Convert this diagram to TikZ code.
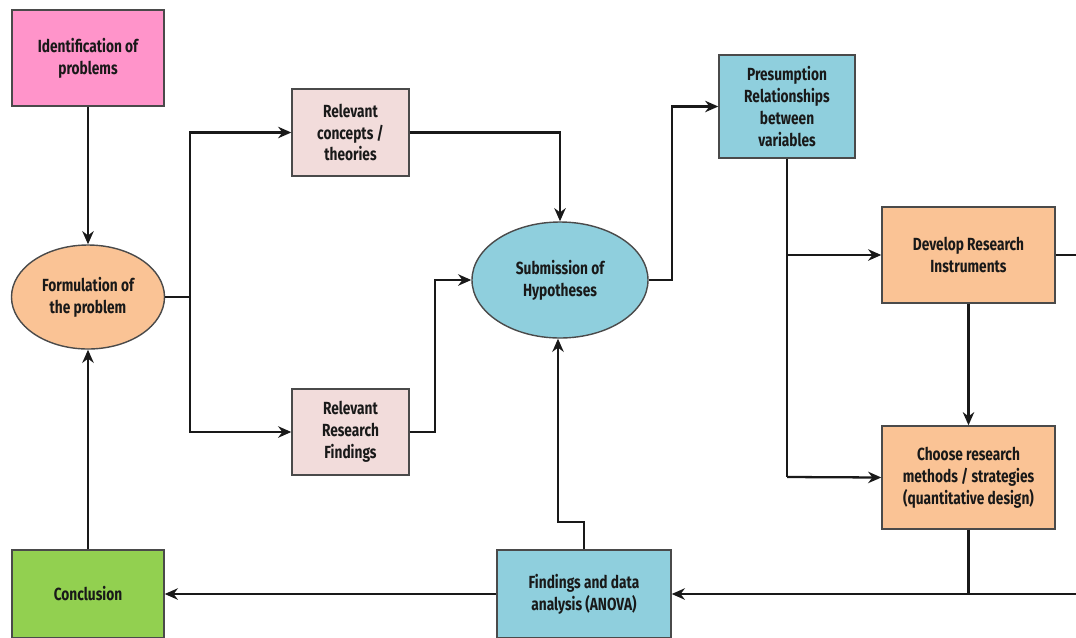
\documentclass[tikz,border=0pt]{standalone}
\usepackage{fontspec}
\newfontfamily\lab{Fira Sans}[FakeStretch=0.78]
\usetikzlibrary{arrows.meta,shapes.geometric}
\definecolor{pinkc}{HTML}{FF94CA}
\definecolor{peach}{HTML}{FAC395}
\definecolor{rosec}{HTML}{F2DCDB}
\definecolor{bluec}{HTML}{8FCFDD}
\definecolor{greenc}{HTML}{92D050}
\definecolor{edgec}{HTML}{4A4A4A}
\begin{document}
\begin{tikzpicture}[x=0.02cm,y=-0.02cm,
  every node/.style={font=\lab\bfseries\fontsize{10}{12.5}\selectfont, align=center, text=black!90},
  boxn/.style={draw=edgec, line width=0.8pt, inner sep=0pt},
  ell/.style={ellipse, draw=edgec, line width=0.8pt, inner sep=0pt},
  conn/.style={draw=black!90, line width=1.3pt},
  arr/.style={conn, -{Stealth[length=7.5pt,width=6.5pt]}}]
\useasboundingbox (0,0) rectangle (1076,637);
\node[boxn, fill=pinkc, minimum width=152*0.02cm, minimum height=96*0.02cm] (ident) at (88,58) {Identification of\\problems};
\node[ell, fill=peach, minimum width=153*0.02cm, minimum height=104*0.02cm] (form) at (88,297) {Formulation of\\the problem};
\node[boxn, fill=greenc, minimum width=152*0.02cm, minimum height=88*0.02cm] (concl) at (88,594) {Conclusion};
\node[boxn, fill=rosec, minimum width=117*0.02cm, minimum height=87*0.02cm] (conc) at (350.5,132.5) {Relevant\\concepts /\\theories};
\node[boxn, fill=rosec, minimum width=117*0.02cm, minimum height=86*0.02cm] (rrf) at (350.5,432) {Relevant\\Research\\Findings};
\node[ell, fill=bluec, minimum width=176*0.02cm, minimum height=116*0.02cm] (hyp) at (560,280) {Submission of\\Hypotheses};
\node[boxn, fill=bluec, minimum width=136*0.02cm, minimum height=103*0.02cm] (pres) at (787,106.5) {Presumption\\Relationships\\between\\variables};
\node[boxn, fill=peach, minimum width=173*0.02cm, minimum height=96*0.02cm] (dev) at (968.5,255) {Develop Research\\Instruments};
\node[boxn, fill=peach, minimum width=173*0.02cm, minimum height=103*0.02cm] (choose) at (968.5,477.5) {Choose research\\methods / strategies\\(quantitative design)};
\node[boxn, fill=bluec, minimum width=174*0.02cm, minimum height=88*0.02cm] (find) at (584,594) {Findings and data\\analysis (ANOVA)};
\coordinate (fork) at (190,297);
\coordinate (devout) at (1076,255);
\coordinate (rightin) at (1076,594);
% connectors
\draw[arr] (ident.south) -- (form.north);
\draw[arr] (concl.north) -- (form.south);
\draw[conn] (form.east) -- (fork);
\draw[arr] (fork) |- (conc.west);
\draw[arr] (fork) |- (rrf.west);
\draw[arr] (conc.east) -| (hyp.north);
\draw[arr] (rrf.east) -- (435,432) |- (hyp.west);
\draw[arr] (hyp.east) -- (672,280) |- (pres.west);
\draw[conn] (pres.south) -- (787,477);
\draw[arr] (787,255) -- (dev.west);
\draw[arr] (787,477) -- (choose.west);
\draw[conn] (dev.east) -- (devout);
\draw[arr] (dev.south) -- (choose.north);
\draw[conn] (choose.south) -- (choose.south |- rightin);
\draw[arr] (rightin) -- (find.east);
\draw[arr] (find.north) -- (584,522) -- (558,522) -- (558,0 |- hyp.south);
\draw[arr] (find.west) -- (concl.east);
\end{tikzpicture}
\end{document}
